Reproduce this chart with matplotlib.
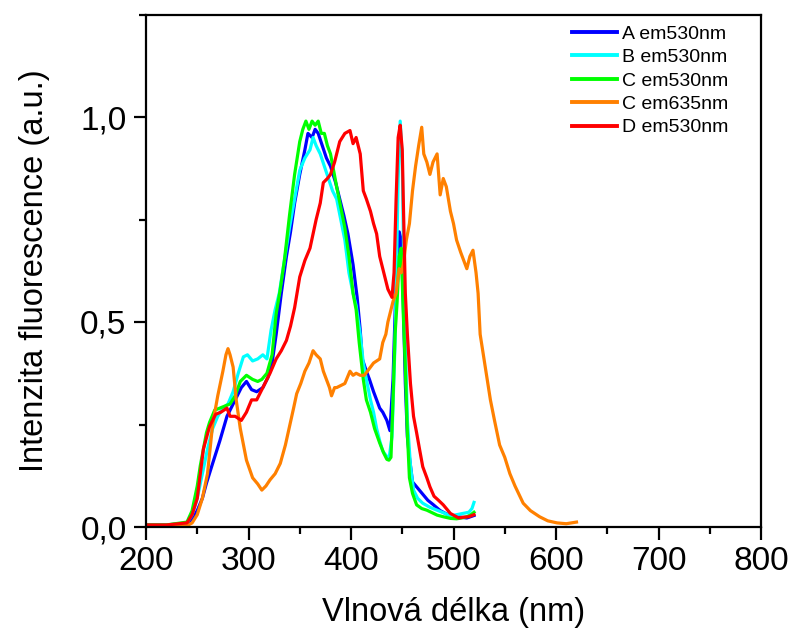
import matplotlib
matplotlib.use("Agg")
import matplotlib.pyplot as plt
from matplotlib.ticker import MultipleLocator, FuncFormatter

plt.rcParams['font.family'] = ['Liberation Sans', 'DejaVu Sans']

# ---- data ----
x_A = [200, 220, 240, 245, 250, 255, 259, 265, 272, 279, 285, 293, 298, 303, 308, 314, 319, 323, 327, 332,
       337, 341, 345, 350, 355, 358, 362, 365, 368, 372, 376, 380, 385, 389, 393, 397, 402, 406, 409, 411,
       415, 418, 422, 425, 428, 431, 435, 438, 441, 444, 447, 449, 451, 453, 455, 457, 460, 465, 470, 475,
       480, 487, 493, 500, 507, 513, 520]
y_A = [0.005, 0.005, 0.008, 0.02, 0.04, 0.07, 0.107, 0.155, 0.21, 0.27, 0.30, 0.34, 0.355, 0.335, 0.33, 0.34, 0.365, 0.40, 0.47, 0.57,
       0.66, 0.72, 0.79, 0.86, 0.92, 0.96, 0.95, 0.97, 0.96, 0.93, 0.90, 0.88, 0.84, 0.80, 0.76, 0.715, 0.64, 0.56, 0.48, 0.41,
       0.38, 0.36, 0.33, 0.31, 0.29, 0.28, 0.26, 0.235, 0.36, 0.60, 0.72, 0.70, 0.55, 0.35, 0.22, 0.17, 0.11, 0.095, 0.08, 0.065,
       0.055, 0.04, 0.032, 0.027, 0.024, 0.022, 0.028]

x_B = [200, 220, 240, 245, 250, 255, 260, 265, 270, 275, 280, 285, 290, 295, 299, 304, 309, 314, 318, 322,
       326, 330, 335, 340, 345, 350, 355, 360, 363, 366, 370, 374, 378, 382, 386, 390, 394, 398, 402, 405,
       409, 412, 415, 419, 422, 425, 428, 431, 434, 437, 440, 443, 446, 448, 450, 452, 455, 458, 461, 465,
       470, 477, 484, 490, 497, 503, 509, 515, 518, 520]
y_B = [0.005, 0.005, 0.01, 0.03, 0.07, 0.13, 0.19, 0.24, 0.27, 0.29, 0.30, 0.33, 0.375, 0.415, 0.42, 0.405, 0.41, 0.42, 0.41, 0.48,
       0.53, 0.57, 0.65, 0.73, 0.80, 0.87, 0.90, 0.92, 0.95, 0.93, 0.91, 0.88, 0.85, 0.82, 0.80, 0.75, 0.70, 0.62, 0.57, 0.54,
       0.47, 0.40, 0.36, 0.31, 0.28, 0.24, 0.21, 0.185, 0.175, 0.165, 0.22, 0.45, 0.85, 0.99, 0.90, 0.55, 0.26, 0.15, 0.09, 0.07,
       0.058, 0.048, 0.041, 0.035, 0.027, 0.03, 0.033, 0.036, 0.045, 0.06]

x_C = [200, 220, 240, 245, 250, 253, 256, 259, 262, 267, 272, 277, 282, 287, 292, 298, 304, 309, 313, 318,
       323, 327, 331, 335, 340, 345, 350, 353, 356, 359, 362, 365, 368, 371, 374, 377, 380, 383, 386, 390,
       394, 398, 402, 405, 408, 412, 415, 419, 423, 428, 432, 435, 437, 439, 441, 443, 445, 447, 449, 451,
       453, 455, 457, 460, 464, 469, 474, 479, 484, 490, 497, 503, 508, 513, 517, 520]
y_C = [0.005, 0.005, 0.012, 0.04, 0.10, 0.15, 0.19, 0.23, 0.255, 0.285, 0.29, 0.295, 0.30, 0.32, 0.355, 0.37, 0.36, 0.355, 0.36, 0.375,
       0.42, 0.52, 0.58, 0.65, 0.76, 0.86, 0.94, 0.97, 0.99, 0.97, 0.99, 0.98, 0.99, 0.96, 0.96, 0.93, 0.91, 0.87, 0.83, 0.78,
       0.73, 0.66, 0.57, 0.53, 0.45, 0.36, 0.31, 0.28, 0.24, 0.205, 0.18, 0.165, 0.163, 0.17, 0.31, 0.47, 0.55, 0.66, 0.68, 0.52,
       0.39, 0.23, 0.12, 0.082, 0.054, 0.045, 0.041, 0.035, 0.029, 0.025, 0.021, 0.02, 0.022, 0.025, 0.03, 0.036]

x_E = [200, 220, 240, 245, 250, 255, 260, 265, 270, 275, 278, 280, 282, 285, 288, 292, 298, 304, 309, 313,
       317, 321, 326, 331, 336, 340, 344, 347, 351, 355, 359, 363, 366, 370, 373, 376, 379, 381, 384, 386,
       390, 394, 399, 402, 405, 409, 413, 416, 419, 422, 425, 428, 431, 434, 436, 439, 441, 444, 447, 449,
       451, 454, 457, 460, 463, 466, 469, 471, 474, 477, 480, 484, 487, 490, 493, 497, 500, 503, 507, 510,
       513, 516, 519, 522, 524, 526, 531, 536, 540, 545, 550, 555, 560, 568, 575, 584, 592, 601, 610, 620]
y_E = [0.002, 0.002, 0.003, 0.01, 0.03, 0.07, 0.13, 0.25, 0.32, 0.38, 0.42, 0.435, 0.42, 0.39, 0.31, 0.24, 0.163, 0.12, 0.105, 0.09,
       0.10, 0.115, 0.13, 0.155, 0.20, 0.245, 0.29, 0.325, 0.35, 0.38, 0.40, 0.43, 0.42, 0.41, 0.38, 0.36, 0.34, 0.32, 0.34, 0.34,
       0.345, 0.35, 0.38, 0.37, 0.375, 0.37, 0.37, 0.38, 0.39, 0.40, 0.405, 0.41, 0.45, 0.47, 0.50, 0.53, 0.55, 0.57, 0.63, 0.62,
       0.64, 0.70, 0.74, 0.82, 0.88, 0.93, 0.975, 0.91, 0.89, 0.86, 0.89, 0.91, 0.81, 0.85, 0.83, 0.77, 0.74, 0.70, 0.67, 0.65,
       0.63, 0.66, 0.675, 0.62, 0.57, 0.47, 0.39, 0.31, 0.26, 0.20, 0.17, 0.13, 0.10, 0.058, 0.04, 0.025, 0.015, 0.01, 0.008, 0.012]

x_D = [200, 220, 240, 245, 250, 256, 262, 268, 273, 279, 282, 287, 293, 298, 303, 308, 314, 321, 327, 332,
       337, 341, 345, 350, 355, 360, 366, 370, 373, 377, 380, 384, 389, 394, 399, 402, 405, 409, 412, 415,
       419, 422, 425, 428, 431, 436, 440, 442, 444, 446, 448, 450, 451, 453, 455, 458, 461, 464, 467, 470,
       474, 477, 481, 485, 490, 497, 505, 510, 515, 520]
y_D = [0.005, 0.005, 0.01, 0.03, 0.07, 0.19, 0.245, 0.275, 0.28, 0.29, 0.27, 0.27, 0.26, 0.28, 0.31, 0.31, 0.34, 0.375, 0.41, 0.43,
       0.455, 0.49, 0.535, 0.61, 0.65, 0.68, 0.75, 0.79, 0.84, 0.85, 0.86, 0.89, 0.94, 0.96, 0.967, 0.935, 0.95, 0.91, 0.82, 0.80,
       0.77, 0.74, 0.715, 0.66, 0.63, 0.58, 0.56, 0.62, 0.80, 0.95, 0.98, 0.92, 0.80, 0.57, 0.47, 0.35, 0.27, 0.23, 0.188, 0.147,
       0.12, 0.098, 0.075, 0.066, 0.054, 0.033, 0.022, 0.024, 0.025, 0.03]

labels = ["A em530nm", "B em530nm", "C em530nm", "C em635nm", "D em530nm"]
colors = ["#0000FF", "#00FFFF", "#00FF00", "#FF8000", "#FF0000"]
series = [(x_A, y_A), (x_B, y_B), (x_C, y_C), (x_E, y_E), (x_D, y_D)]

fig = plt.figure(figsize=(7.92, 6.35), dpi=100)
ax = fig.add_axes([146/792, 1 - 527/635, (761 - 146)/792, (527 - 14.5)/635])

for (xs, ys), lab, col in zip(series, labels, colors):
    ax.plot(xs, ys, color=col, lw=2.3, label=lab)

ax.set_xlim(200, 800)
ax.set_ylim(0, 1.25)
ax.xaxis.set_major_locator(MultipleLocator(100))
ax.xaxis.set_minor_locator(MultipleLocator(50))
ax.yaxis.set_major_locator(MultipleLocator(0.5))
ax.yaxis.set_minor_locator(MultipleLocator(0.25))
ax.yaxis.set_major_formatter(FuncFormatter(lambda v, p: f"{v:.1f}".replace('.', ',')))

for s in ax.spines.values():
    s.set_linewidth(1.6)
ax.tick_params(which='major', direction='out', length=9, width=1.6, labelsize=24, pad=5)
ax.tick_params(which='minor', direction='out', length=5, width=1.6)

ax.set_xlabel("Vlnová délka (nm)", fontsize=23.5, labelpad=14)
ax.set_ylabel("Intenzita fluorescence (a.u.)", fontsize=23.5, labelpad=22)

leg = ax.legend(loc='upper left', bbox_to_anchor=(572/792, 1 - 25/635), bbox_transform=fig.transFigure,
                frameon=False, fontsize=14, handlelength=2.3, handletextpad=0.25, labelspacing=0.3,
                borderpad=0, borderaxespad=0)
for l in leg.get_lines():
    l.set_linewidth(2.8)

fig.savefig("out.png", dpi=100)
